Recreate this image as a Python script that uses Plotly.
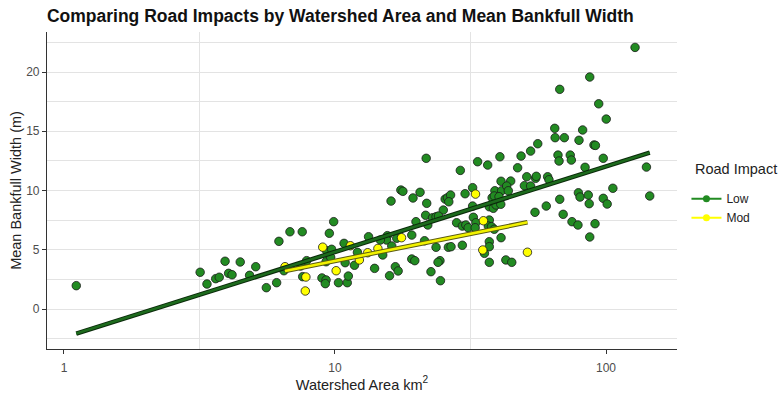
import numpy as np
import plotly.graph_objects as go

# Road impact class "Low": watershed area (km^2) and mean bankfull width (m)
low_area = [1.11, 3.18, 3.37, 3.63, 3.74, 3.93, 4.05, 4.17, 4.47, 4.84, 5.10,
            5.58, 6.09, 6.21, 6.82, 7.57, 9.89, 9.53, 9.31, 9.72, 10.8, 12.1, 13.3, 7.86, 7.47, 7.60,
            8.95, 9.27, 9.21, 10.3, 11.1, 11.2, 10.9, 11.8, 9.27, 6.48, 9.64,
            21.7, 17.5, 17.8, 20.6, 16.1, 19.4, 21.8, 25.1, 21.6, 19.9, 22.9, 23.6, 24.1, 22.0, 19.2,
            16.9, 15.6, 15.5, 14.7, 16.2, 15.0, 21.4, 23.6, 26.2, 14.0, 16.7, 17.1, 19.2, 19.7, 15.9,
            22.6, 24.4, 24.0, 24.5,
            29.0, 33.6, 36.6, 40.6, 47.2, 48.6, 52.7, 56.0, 25.5, 26.0, 26.7, 26.3, 30.2, 32.2, 32.2,
            41.0, 44.5, 38.9, 41.2, 43.0, 43.6, 38.0, 38.7, 40.3, 37.1, 38.4, 39.3, 40.9, 50.0, 52.7,
            55.0, 55.3, 51.0, 54.7, 28.1, 29.5, 30.4, 31.0, 32.4, 33.1, 32.9, 37.1, 36.8, 37.8, 38.7,
            41.0, 26.8, 29.5, 37.1, 37.1, 35.6, 37.1, 42.7, 44.9,
            128, 87.1, 67.5, 94.0, 100.2, 64.7, 82.0, 64.9, 70.2, 79.5, 90.3, 91.4, 66.5, 67.1, 73.8,
            74.5, 97.7, 141, 83.7, 60.9, 61.6, 106, 145, 79.1, 80.2, 86.0, 97.7, 101, 86.7, 67.5,
            60.2, 69.5, 74.9, 78.8, 91.1, 87.1]
low_width = [1.97, 3.10, 2.11, 2.56, 2.68, 4.03, 3.01, 2.89, 3.97, 2.84, 3.57,
             1.80, 2.22, 5.71, 6.52, 6.52, 7.37, 6.39, 4.92, 5.04, 5.54, 4.78, 6.10, 4.08, 3.63, 2.73,
             2.62, 2.45, 2.14, 2.22, 2.22, 2.78, 3.91, 3.69, 3.99, 3.23, 4.36,
             12.72, 10.04, 9.93, 9.85, 9.11, 9.37, 8.92, 8.35, 7.91, 7.37, 7.70, 7.79, 7.85, 7.09, 6.24,
             5.97, 6.19, 5.82, 5.82, 5.32, 4.56, 5.76, 5.21, 5.21, 3.43, 3.57, 3.21, 4.22, 4.08, 2.81,
             3.15, 4.08, 3.94, 2.39,
             11.70, 12.43, 12.15, 12.85, 11.92, 12.91, 13.33, 13.95, 9.28, 9.39, 9.62, 9.05, 9.73, 10.24, 8.69,
             10.78, 10.80, 9.98, 9.98, 10.38, 9.98, 9.39, 9.54, 9.48, 8.63, 8.50, 8.78, 8.84, 10.41, 10.38,
             11.03, 11.20, 11.16, 8.16, 7.28, 7.00, 7.09, 6.86, 7.74, 7.28, 6.86, 7.51, 7.00, 6.95, 6.73,
             6.02, 5.26, 5.38, 5.68, 5.26, 4.70, 3.94, 4.14, 3.94,
             22.08, 19.58, 18.54, 17.32, 16.03, 15.25, 15.11, 14.46, 14.46, 14.24, 13.84, 13.81, 12.99, 12.49, 12.99,
             12.57, 12.72, 11.98, 11.96, 11.16, 10.91, 10.19, 9.54, 9.81, 9.45, 9.62, 9.34, 8.86, 8.89, 9.26,
             8.69, 7.99, 7.37, 7.09, 7.20, 6.08]

# Road impact class "Mod"
mod_area = [9.01, 11.4, 13.2, 7.81, 7.77, 10.1, 6.54, 12.3, 14.4, 17.6, 33.0, 35.3, 35.1, 51.3]
mod_width = [5.22, 5.34, 4.75, 2.70, 1.52, 3.23, 3.57, 4.14, 5.11, 6.02, 9.70, 7.45, 4.98, 4.79]

x_ticks = [1, 10, 100]
y_ticks = [0, 5, 10, 15, 20]

GREEN = "#228B22"
YELLOW = "#FFFF00"
FONT = "Liberation Sans, Arial, sans-serif"


def lm_line(area, width, n=80):
    """Least-squares fit of width on log10(area), evaluated over the data range."""
    lx = np.log10(np.asarray(area, dtype=float))
    slope, intercept = np.polyfit(lx, np.asarray(width, dtype=float), 1)
    grid = np.linspace(lx.min(), lx.max(), n)
    return 10 ** grid, intercept + slope * grid


fig = go.Figure()

marker_line = dict(color="#1a1a1a", width=0.8)
fig.add_trace(go.Scatter(x=low_area, y=low_width, mode="markers", showlegend=False,
                         marker=dict(size=8.5, color=GREEN, line=marker_line)))
fig.add_trace(go.Scatter(x=mod_area, y=mod_width, mode="markers", showlegend=False,
                         marker=dict(size=8.5, color=YELLOW, line=marker_line)))

# Linear fits (drawn as a dark casing with a coloured core)
for area, width, core, casing in [(low_area, low_width, "#1d6b1d", "#0a2a0a"),
                                  (mod_area, mod_width, "#f2f200", "#5a5a10")]:
    fx, fy = lm_line(area, width)
    fig.add_trace(go.Scatter(x=fx, y=fy, mode="lines", showlegend=False, hoverinfo="skip",
                             line=dict(color=casing, width=4.6)))
    fig.add_trace(go.Scatter(x=fx, y=fy, mode="lines", showlegend=False, hoverinfo="skip",
                             line=dict(color=core, width=2.6)))

# Legend entries
for name, col in [("Low", GREEN), ("Mod", YELLOW)]:
    fig.add_trace(go.Scatter(x=[None], y=[None], mode="lines+markers", name=name,
                             marker=dict(size=7, color=col),
                             line=dict(color=col, width=2)))

fig.update_layout(
    width=782, height=397,
    margin=dict(l=47, r=105, t=32, b=48, autoexpand=False),
    paper_bgcolor="white", plot_bgcolor="white",
    font=dict(family=FONT, color="#222222"),
    title=dict(text="<b>Comparing Road Impacts by Watershed Area and Mean Bankfull Width</b>",
               x=0.06, xref="container", xanchor="left", y=0.96, yref="container", yanchor="middle",
               font=dict(size=17.5, color="#111111", family=FONT)),
    legend=dict(x=1.015, xanchor="left", y=0.52, yanchor="top",
                font=dict(size=12, color="#222222"), tracegroupgap=0, itemwidth=30,
                bgcolor="rgba(0,0,0,0)"),
    showlegend=True,
    annotations=[dict(text="Road Impact", xref="paper", yref="paper", x=1.025, y=0.568,
                      xanchor="left", yanchor="middle", showarrow=False,
                      font=dict(size=14.5, color="#222222", family=FONT))],
)

fig.update_xaxes(
    type="log", range=[-0.0627, 2.262], automargin=False,
    tickvals=x_ticks, ticktext=[str(v) for v in x_ticks],
    showgrid=False, zeroline=False,
    minor=dict(tickvals=[10 ** 0.5, 10 ** 1.5], showgrid=True, gridcolor="#e3e3e3",
               gridwidth=1, ticks=""),
    showline=True, linecolor="#333333", linewidth=1.2,
    ticks="outside", ticklen=4, tickcolor="#333333", ticklabelstandoff=3,
    tickfont=dict(size=12, color="#4d4d4d"),
    title=dict(text="Watershed Area km<sup>2</sup>", font=dict(size=14.5, color="#222222"), standoff=4),
)
fig.update_yaxes(
    range=[-3.376, 23.38], automargin=False,
    tickvals=y_ticks,
    showgrid=True, gridcolor="#e3e3e3", gridwidth=1, zeroline=False,
    minor=dict(dtick=2.5, tick0=2.5, showgrid=True, gridcolor="#e3e3e3", gridwidth=1, ticks=""),
    showline=True, linecolor="#333333", linewidth=1.2,
    ticks="outside", ticklen=4, tickcolor="#333333",
    tickfont=dict(size=12, color="#4d4d4d"),
    title=dict(text="Mean Bankfull Width (m)", font=dict(size=14.5, color="#222222"), standoff=1),
)

fig.write_html("out.html")
